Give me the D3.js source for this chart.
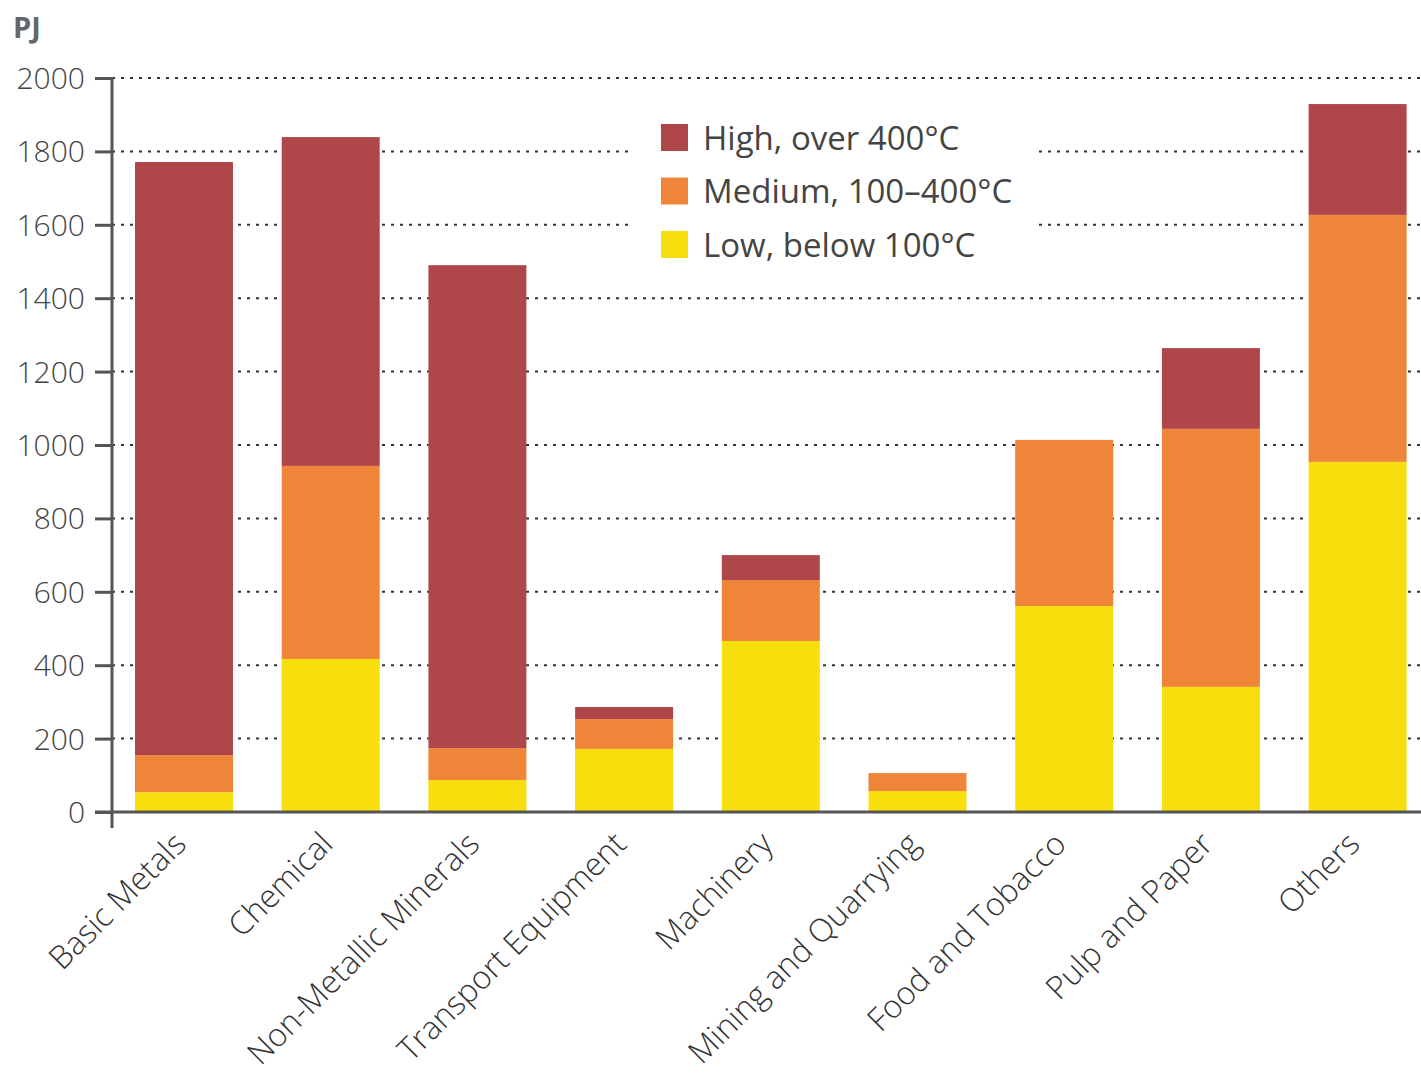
<!DOCTYPE html>
<html><head><meta charset="utf-8">
<script src="https://cdn.jsdelivr.net/npm/d3@7"></script>
<style>
body{margin:0;background:#fff;}
text{font-family:"Open Sans","Noto Sans",sans-serif;}
</style></head>
<body><svg id="c" width="1421" height="1073"></svg>
<script>
const categories = ["Basic Metals","Chemical","Non-Metallic Minerals","Transport Equipment","Machinery","Mining and Quarrying","Food and Tobacco","Pulp and Paper","Others"];
const lowValues = [54, 417, 87, 172, 466, 57, 561, 341, 954];
const mediumValues = [101, 526, 87, 81, 166, 49, 453, 703, 673];
const highValues = [1616, 896, 1316, 33, 68, 0, 0, 220, 302];
const seriesNames = ["High, over 400°C","Medium, 100–400°C","Low, below 100°C"];
const yTicks = [0,200,400,600,800,1000,1200,1400,1600,1800,2000];
const colors = {low:"#f6df0c", medium:"#ee8538", high:"#ae464a"};

const svg = d3.select("#c");
const x = d3.scaleBand().domain(categories).range([110.65, 1430.95]).paddingInner(0.332).paddingOuter(0.166);
const y = d3.scaleLinear().domain([0,2000]).range([812,78]);

// gridlines
svg.append("g").selectAll("line").data(yTicks.filter(d=>d>0)).join("line")
  .attr("x1",112).attr("x2",1421).attr("y1",d=>y(d)).attr("y2",d=>y(d))
  .attr("stroke","#333").attr("stroke-width",2).attr("stroke-dasharray","3,6");

// legend background
svg.append("rect").attr("x",632).attr("y",100).attr("width",402).attr("height",170).attr("fill","#fff");

// stacked bars
const rows = categories.map((c,i)=>({cat:c, low:lowValues[i], medium:mediumValues[i], high:highValues[i]}));
const stack = d3.stack().keys(["low","medium","high"])(rows);
svg.append("g").selectAll("g").data(stack).join("g").attr("fill",d=>colors[d.key])
  .selectAll("rect").data(d=>d).join("rect")
  .attr("x",d=>x(d.data.cat)).attr("width",x.bandwidth())
  .attr("y",d=>y(d[1])).attr("height",d=>y(d[0])-y(d[1]));

// y axis
const yAxis = d3.axisLeft(y).tickValues(yTicks).tickSize(17).tickPadding(12).tickFormat(d3.format("d"));
const gy = svg.append("g").attr("transform","translate(112,0)").call(yAxis);
gy.select(".domain").remove();
gy.selectAll(".tick line").attr("stroke","#555").attr("stroke-width",3);
gy.selectAll(".tick text").attr("fill","#444").style("font-size","30px").style("font-weight","300").attr("x",-27).attr("dy","0.35em");
svg.append("line").attr("x1",112).attr("x2",112).attr("y1",77).attr("y2",828).attr("stroke","#555").attr("stroke-width",3);

// x axis
const xAxis = d3.axisBottom(x).tickSize(0).tickPadding(0);
const gx = svg.append("g").attr("transform","translate(0,812)").call(xAxis);
gx.select(".domain").remove();
gx.selectAll(".tick text").attr("fill","#333").style("font-size","32px").style("font-weight","300")
  .attr("text-anchor","end").attr("transform","translate(-4,26) rotate(-45)").attr("dy","0.35em").attr("y",0);
svg.append("line").attr("x1",95).attr("x2",1421).attr("y1",812).attr("y2",812).attr("stroke","#555").attr("stroke-width",3);

// PJ
svg.append("text").attr("x",13).attr("y",38).text("PJ").attr("fill","#666").style("font-size","29px").style("font-weight","700");

// legend
const lg = svg.append("g").selectAll("g").data(seriesNames).join("g")
  .attr("transform",(d,i)=>`translate(661,${124+i*53.5})`);
lg.append("rect").attr("width",27).attr("height",27).attr("fill",(d,i)=>[colors.high,colors.medium,colors.low][i]);
lg.append("text").attr("x",42).attr("y",14).attr("dy","0.35em").text(d=>d).attr("fill","#444").style("font-size","33px");
</script></body></html>
